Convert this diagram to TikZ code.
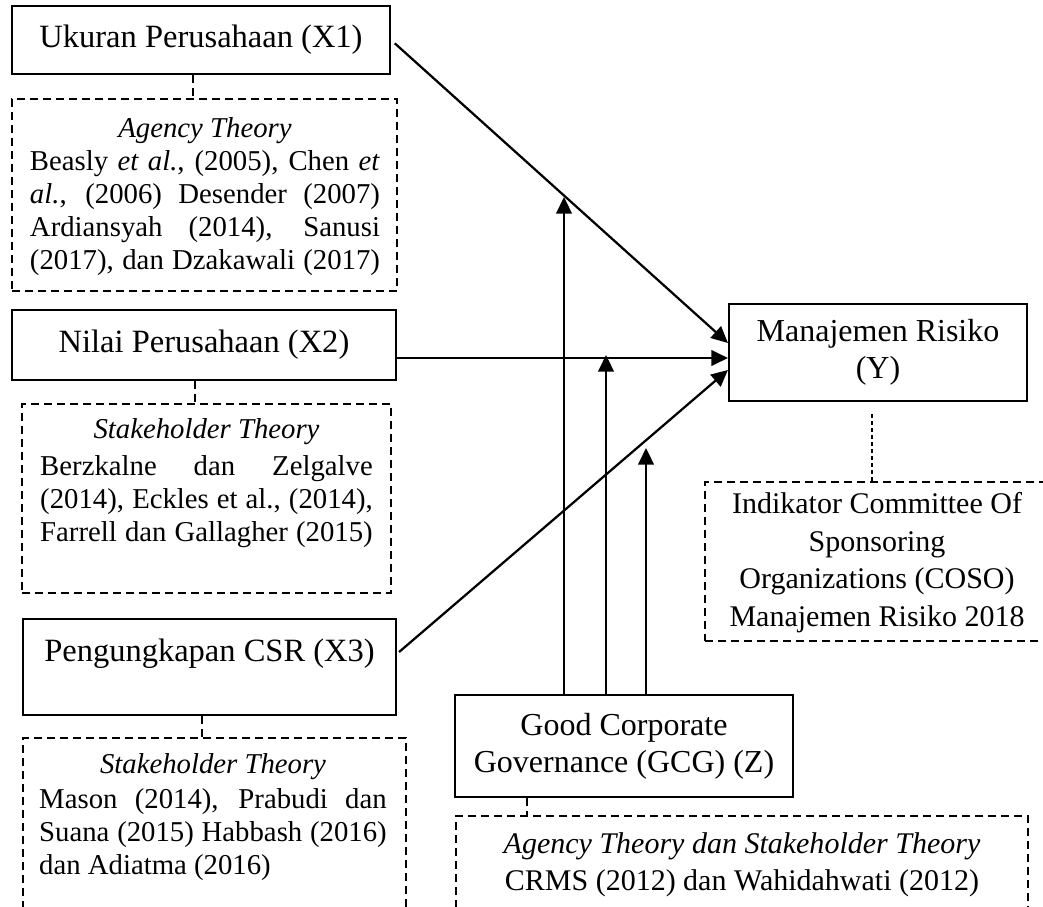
\documentclass[tikz,border=0pt]{standalone}
\usepackage{fontspec}
\setmainfont{Liberation Serif}
\usetikzlibrary{arrows.meta,calc}
\newcommand{\jset}{\parindent=0pt\leftskip=0pt\rightskip=0pt\tolerance=10000\hyphenpenalty=10000\emergencystretch=0pt\relax}
\begin{document}
\begin{tikzpicture}[x=0.4pt,y=-0.4pt,
  font=\fontsize{13}{14.8}\selectfont,
  box/.style={draw,line width=0.85pt,inner sep=0pt},
  dbox/.style={draw,line width=0.6pt,dash pattern=on 3.2pt off 2pt,inner sep=0pt},
  conn/.style={line width=0.6pt,dash pattern=on 3.2pt off 2pt},
  fconn/.style={line width=0.6pt,dash pattern=on 1.6pt off 1.2pt},
  arr/.style={line width=0.9pt,-{Triangle[length=6.6pt,width=6.2pt]}},
  txt/.style={inner sep=0pt,anchor=north},
  jtxt/.style={txt,font=\fontsize{11.5}{13.2}\selectfont},
  wide/.style={font=\fontsize{12.8}{14.8}\selectfont}]

\useasboundingbox (0,0) rectangle (1043,906);

% solid boxes
\node[box,minimum width=151.2pt,minimum height=27.2pt] (X1) at (201,40) {Ukuran Perusahaan (X1)};
\node[box,minimum width=153.6pt,minimum height=28pt] (X2) at (204,345) {Nilai Perusahaan (X2)};
\node[box,minimum width=149.2pt,minimum height=38.4pt,align=center,font=\fontsize{13}{13.2}\selectfont] (X3) at (209.5,667) {Pengungkapan CSR (X3)\\\mbox{}};
\node[box,wide,minimum width=135.2pt,minimum height=40.8pt,align=center] (Z) at (624,746) {Good Corporate\\Governance (GCG) (Z)};
\node[box,wide,minimum width=119.2pt,minimum height=38.8pt,align=center] (Y) at (878,352.5) {Manajemen Risiko\\(Y)};

% dashed frames
\node[dbox,minimum width=154pt,minimum height=76.8pt] (D1) at (204.5,195) {};
\node[dbox,minimum width=147.6pt,minimum height=75.6pt] (D2) at (206.5,498.5) {};
\node[dbox,minimum width=153.2pt,minimum height=80.8pt] (D3) at (214.5,839) {};
\node[dbox,minimum width=228.8pt,minimum height=49.6pt] (DZ) at (742,878) {};
\node[dbox,minimum width=138pt,minimum height=63.6pt] (DY) at (877.5,561.5) {};

% texts in dashed frames
\node[jtxt] (T1) at (205,117) {\begin{minipage}[t]{140pt}\jset\parfillskip=0pt
{\centering\textit{Agency Theory}\par}Beasly \textit{et al.}, (2005), Chen \textit{et}\linebreak
\textit{al.}, (2006) Desender (2007)\linebreak
Ardiansyah (2014), Sanusi\linebreak
(2017), dan Dzakawali (2017)\par\end{minipage}};

\node[jtxt] (T2) at (206.5,418) {\begin{minipage}[t]{133pt}\jset\parfillskip=0pt
{\centering\textit{Stakeholder Theory}\par}\vskip1.5pt Berzkalne dan Zelgalve\linebreak
(2014), Eckles et al., (2014),\linebreak
Farrell dan Gallagher (2015)\par\end{minipage}};

\node[jtxt] (T3) at (213,753) {\begin{minipage}[t]{139pt}\jset\parfillskip=0pt plus 1fil\relax
{\centering\textit{Stakeholder Theory}\par}\vskip0.8pt Mason (2014), Prabudi dan\linebreak
Suana (2015) Habbash (2016)\linebreak
dan Adiatma (2016)\par\end{minipage}};

\node[txt,align=center,font=\fontsize{12}{14.8}\selectfont] (TZ) at (742,832) {\textit{Agency Theory dan Stakeholder Theory}\\CRMS (2012) dan Wahidahwati (2012)};
\node[txt,align=center,font=\fontsize{12}{15}\selectfont] (TY) at (877,492) {Indikator Committee Of\\Sponsoring\\Organizations (COSO)\\Manajemen Risiko 2018};

% dashed connectors
\coordinate (c1) at (193,0);
\coordinate (c2) at (195,0);
\coordinate (c3) at (202,0);
\coordinate (c4) at (527,0);
\coordinate (c5) at (872,0);
\draw[conn] (X1.south -| c1) -- (D1.north -| c1);
\draw[conn] (X2.south -| c2) -- (D2.north -| c2);
\draw[conn] (X3.south -| c3) -- (D3.north -| c3);
\draw[conn] (Z.south -| c4) -- (DZ.north -| c4);
\draw[fconn] ($(Y.south -| c5)+(0,12)$) -- (DY.north -| c5);

% arrows to Y
\draw[arr,shorten <=2pt] (X1.east) -- ($(Y.west)+(0,-9.5)$);
\draw[arr] ($(X2.east)+(0,13)$) -- ($(Y.west)+(0,5.5)$);
\draw[arr] ($(X3.east)+(2,-15)$) -- ($(Y.west)+(0,17.5)$);

% moderating arrows
\coordinate (m1) at (564,197);
\coordinate (m2) at (606,355);
\coordinate (m3) at (646,448);
\draw[arr] (Z.north -| m1) -- (m1);
\draw[arr] (Z.north -| m2) -- (m2);
\draw[arr] (Z.north -| m3) -- (m3);
\end{tikzpicture}
\end{document}
